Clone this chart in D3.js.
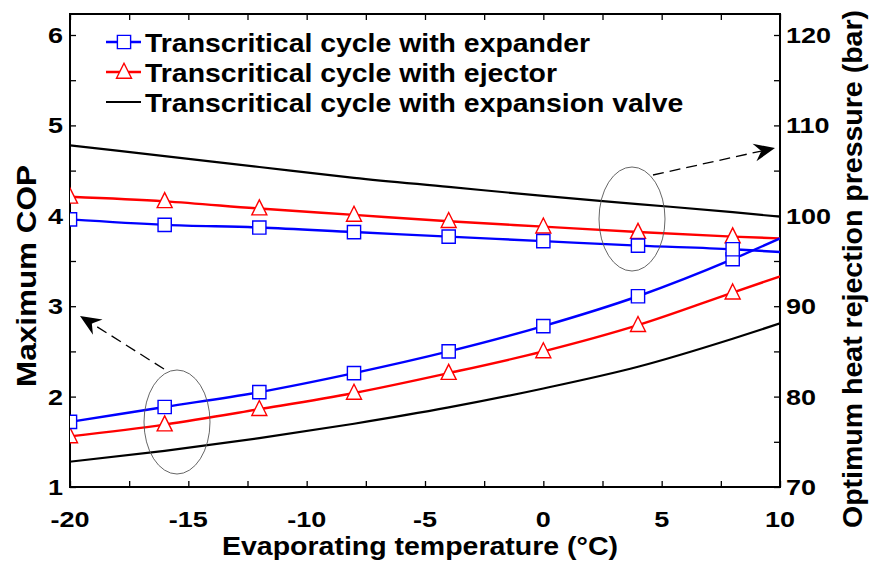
<!DOCTYPE html>
<html><head><meta charset="utf-8">
<script src="https://cdn.jsdelivr.net/npm/d3@7"></script>
<style>
html,body{margin:0;padding:0;background:#fff;}
text{font-family:"Liberation Sans",Arial,sans-serif;font-weight:bold;fill:#000;}
</style></head>
<body>
<svg id="chart" width="870" height="562"></svg>
<script>
// ---- data ----
const temps = [-20, -16, -12, -8, -4, 0, 4, 8, 10];
const markerTemps = [-20, -16, -12, -8, -4, 0, 4, 8];
const copExpander = [1.72, 1.885, 2.05, 2.26, 2.50, 2.78, 3.11, 3.52, 3.75];
const copEjector  = [1.56, 1.69, 1.86, 2.04, 2.26, 2.50, 2.79, 3.15, 3.33];
const copValve    = [1.28, 1.40, 1.54, 1.70, 1.88, 2.09, 2.33, 2.64, 2.81];
const presExpander = [99.6, 99.0, 98.7, 98.2, 97.7, 97.2, 96.7, 96.3, 96.0];
const presEjector  = [102.1, 101.6, 100.8, 100.1, 99.4, 98.8, 98.2, 97.7, 97.5];
const presValve    = [107.8, 106.6, 105.4, 104.2, 103.2, 102.2, 101.3, 100.4, 99.9];
const xTicks = [-20, -15, -10, -5, 0, 5, 10];
const xMinorTicks = [-17.5, -12.5, -7.5, -2.5, 2.5, 7.5];
const copTicks = [1, 2, 3, 4, 5, 6];
const copMinorTicks = [1.5, 2.5, 3.5, 4.5, 5.5];
const presTicks = [70, 80, 90, 100, 110, 120];
const presMinorTicks = [75, 85, 95, 105, 115];
const legendLabels = ["Transcritical cycle with expander", "Transcritical cycle with ejector", "Transcritical cycle with expansion valve"];
const xTitle = "Evaporating temperature (°C)";
const yTitle = "Maximum COP";
const y2Title = "Optimum heat rejection pressure (bar)";

// ---- layout ----
const L = 70, R = 780, T = 14, B = 487;
const svg = d3.select("#chart");
const x = d3.scaleLinear().domain([-20, 10]).range([L, R]);
const y = d3.scaleLinear().domain([1, 6]).range([B, 35]);
const y2 = d3.scaleLinear().domain([70, 120]).range([B, 35]);

svg.append("defs").append("clipPath").attr("id", "clip")
  .append("rect").attr("x", L).attr("y", T).attr("width", R - L).attr("height", B - T);

const TK = 6;
const axG = svg.append("g");
axG.append("g").attr("transform", `translate(0,${B})`)
  .call(d3.axisBottom(x).tickValues(xTicks.concat(xMinorTicks)).tickSize(-TK).tickFormat(""));
axG.append("g").attr("transform", `translate(0,${T})`)
  .call(d3.axisTop(x).tickValues(xTicks.concat(xMinorTicks)).tickSize(-TK).tickFormat(""));
axG.append("g").attr("transform", `translate(${L},0)`)
  .call(d3.axisLeft(y).tickValues(copTicks.concat(copMinorTicks)).tickSize(-TK).tickFormat(""));
axG.append("g").attr("transform", `translate(${R},0)`)
  .call(d3.axisRight(y2).tickValues(presTicks.concat(presMinorTicks)).tickSize(-TK).tickFormat(""));
axG.selectAll(".domain").remove();
axG.selectAll(".tick line").attr("stroke", "#000").attr("stroke-width", 1.3);
svg.append("rect").attr("x", L).attr("y", T).attr("width", R - L).attr("height", B - T)
  .attr("fill", "none").attr("stroke", "#000").attr("stroke-width", 2);

// tick labels
const SX = 1.2;
function stretched(g, px, py, txt, anchor, size) {
  return g.append("text").attr("font-size", size).attr("text-anchor", anchor)
    .attr("transform", `translate(${px},${py}) scale(${SX},1)`).text(txt);
}
const lab = svg.append("g");
xTicks.forEach(v => stretched(lab, x(v), 527, String(v), "middle", 22.5));
copTicks.forEach(v => stretched(lab, 63, y(v) + 8, String(v), "end", 22.5));
presTicks.forEach(v => stretched(lab, 786, y2(v) + 8, String(v), "start", 22.5));

// titles
svg.append("text").attr("x", 420).attr("y", 555).attr("text-anchor", "middle")
  .attr("font-size", 25).attr("textLength", 396).attr("lengthAdjust", "spacingAndGlyphs").text(xTitle);
svg.append("text").attr("transform", `translate(36,276) rotate(-90)`).attr("text-anchor", "middle")
  .attr("font-size", 27).attr("textLength", 222).attr("lengthAdjust", "spacingAndGlyphs").text(yTitle);
svg.append("text").attr("transform", `translate(862,269) rotate(-90)`).attr("text-anchor", "middle")
  .attr("font-size", 27).attr("textLength", 518).attr("lengthAdjust", "spacingAndGlyphs").text(y2Title);

// ---- curves ----
const plot = svg.append("g").attr("clip-path", "url(#clip)");
const lineCop = d3.line().x(d => x(d[0])).y(d => y(d[1])).curve(d3.curveMonotoneX);
const linePres = d3.line().x(d => x(d[0])).y(d => y2(d[1])).curve(d3.curveMonotoneX);
const zip = arr => temps.map((t, i) => [t, arr[i]]);

const series = [
  {cop: copValve, pres: presValve, color: "#000", marker: null, w: 2.2},
  {cop: copEjector, pres: presEjector, color: "#ff0000", marker: "tri", w: 2.4},
  {cop: copExpander, pres: presExpander, color: "#0000ff", marker: "sq", w: 2.4}
];
series.forEach(s => {
  plot.append("path").attr("d", lineCop(zip(s.cop))).attr("fill", "none").attr("stroke", s.color).attr("stroke-width", s.w);
  plot.append("path").attr("d", linePres(zip(s.pres))).attr("fill", "none").attr("stroke", s.color).attr("stroke-width", s.w);
});
const sqSym = d3.symbol().type(d3.symbolSquare).size(175);
const triPath = (cx, cy, s) => `M${cx},${cy - s * 0.58}L${cx + s / 2},${cy + s * 0.42}L${cx - s / 2},${cy + s * 0.42}Z`;
function drawMarker(g, kind, color, cx, cy) {
  if (kind === "sq") {
    g.append("path").attr("d", sqSym()).attr("transform", `translate(${cx},${cy})`)
      .attr("fill", "#fff").attr("stroke", color).attr("stroke-width", 1.4);
  } else if (kind === "tri") {
    g.append("path").attr("d", triPath(cx, cy, 15)).attr("fill", "#fff").attr("stroke", color).attr("stroke-width", 1.4);
  }
}
series.filter(s => s.marker).forEach(s => {
  markerTemps.forEach(t => {
    const i = temps.indexOf(t);
    drawMarker(plot, s.marker, s.color, x(t), y(s.cop[i]));
    drawMarker(plot, s.marker, s.color, x(t), y2(s.pres[i]));
  });
});

// ---- ellipses & arrows ----
svg.append("ellipse").attr("cx", 177).attr("cy", 422).attr("rx", 33).attr("ry", 52)
  .attr("fill", "none").attr("stroke", "#555").attr("stroke-width", 0.9);
svg.append("ellipse").attr("cx", 632).attr("cy", 219).attr("rx", 33).attr("ry", 52)
  .attr("fill", "none").attr("stroke", "#555").attr("stroke-width", 0.9);
function arrow(x1, y1, x2, y2_) {
  const ang = Math.atan2(y2_ - y1, x2 - x1);
  const len = 21, wid = 9, back = 14;
  const ca = Math.cos(ang), sa = Math.sin(ang);
  const bx = x2 - back * ca, by = y2_ - back * sa;
  svg.append("line").attr("x1", x1).attr("y1", y1).attr("x2", bx).attr("y2", by)
    .attr("stroke", "#000").attr("stroke-width", 1.3).attr("stroke-dasharray", "11,6");
  const p1 = [x2 - len * ca + wid * sa, y2_ - len * sa - wid * ca];
  const p2 = [x2 - len * ca - wid * sa, y2_ - len * sa + wid * ca];
  svg.append("path").attr("d", `M${x2},${y2_}L${p1[0]},${p1[1]}L${bx},${by}L${p2[0]},${p2[1]}Z`).attr("fill", "#000");
}
arrow(164, 369, 80, 316);
arrow(653, 175, 775, 148);

// ---- legend ----
const leg = svg.append("g");
legendLabels.forEach((lbl, i) => {
  const s = [series[2], series[1], series[0]][i];
  const ly = 42 + i * 30;
  leg.append("line").attr("x1", 106).attr("x2", 141).attr("y1", ly).attr("y2", ly)
    .attr("stroke", s.color).attr("stroke-width", s.w);
  if (s.marker) drawMarker(leg, s.marker, s.color, 124, ly);
  leg.append("text").attr("font-size", 26).attr("transform", `translate(145,${ly + 9.5}) scale(1.093,1)`).text(lbl);
});
</script>
</body></html>
